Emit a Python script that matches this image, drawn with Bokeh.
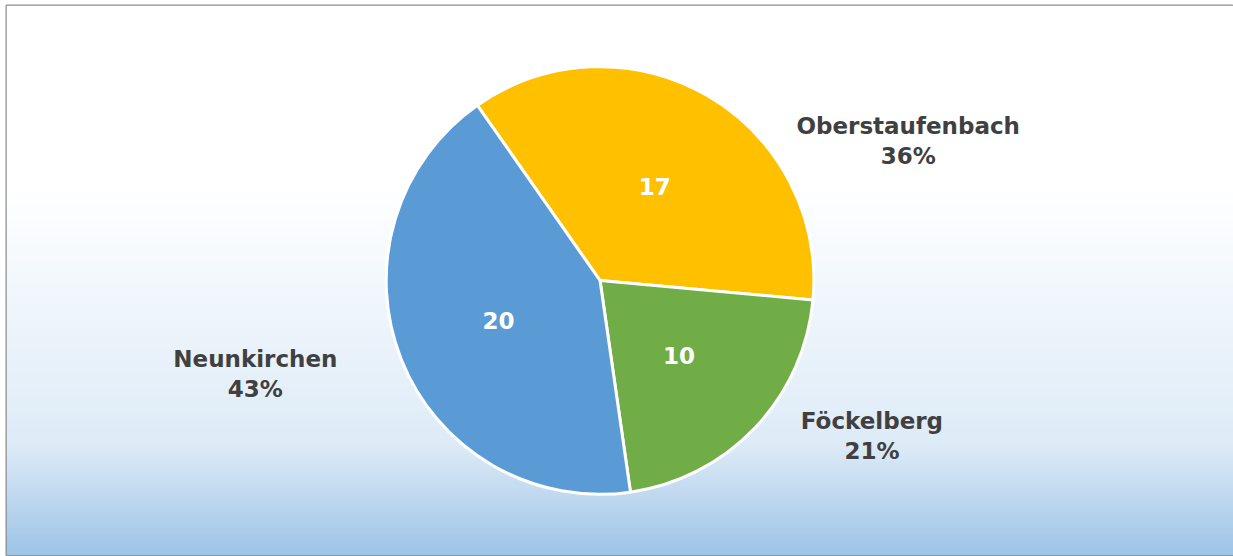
import numpy as np
from bokeh.plotting import figure
from bokeh.models import Range1d
from bokeh.core.properties import value
from bokeh.embed import file_html
from bokeh.resources import INLINE

# ---- data ----
categories = ["Oberstaufenbach", "Föckelberg", "Neunkirchen"]
values = [17, 10, 20]
colors = ["#FFC000", "#70AD47", "#5B9BD5"]

# ---- layout / style ----
W, H = 1233, 556
CX, CY, R = 600, H - 280, 214
START_DEG = 125.0          # first slice starts here, slices run clockwise
INNER_R = 0.51             # fraction of radius for value labels
# outside label block centres (angle in deg, distance in px) from the pie centre
outer_pos = [(24.3, 338.4), (-29.8, 313.6), (-164.9, 357.3)]
FONT = "DejaVu Sans"
FS = "23px"

p = figure(width=W, height=H, output_backend="svg", toolbar_location=None,
           x_range=Range1d(6, W + 1), y_range=Range1d(1, H - 5),
           min_border_left=6, min_border_top=5, min_border_bottom=1, min_border_right=0)
p.axis.visible = False
p.grid.visible = False
p.outline_line_color = "#8C8C8C"
p.outline_line_width = 2
p.background_fill_color = "white"
p.border_fill_color = "white"

# background gradient (white top -> light blue bottom)
gy0, gy1 = 1, H - 5
n = gy1 - gy0
frac_top = 1.0 - (np.arange(n) + 0.5) / n     # row 0 is at the bottom
stops = [0.0, 0.33, 0.80, 1.0]
cols = [(255, 255, 255), (255, 255, 255), (221, 235, 247), (157, 195, 230)]
img = np.empty((n, 1), dtype=np.uint32)
view = img.view(dtype=np.uint8).reshape((n, 1, 4))
for k in range(3):
    view[:, 0, k] = np.interp(frac_top, stops, [c[k] for c in cols]).round().astype(np.uint8)
view[:, 0, 3] = 255
p.image_rgba(image=[img], x=6, y=gy0, dw=W - 5, dh=n)

# pie
total = float(sum(values))
fracs = [v / total for v in values]
a_start = []
a_end = []
cur = np.radians(START_DEG)
for f in fracs:
    a_start.append(cur)
    cur = cur - f * 2 * np.pi
    a_end.append(cur)

p.wedge(x=CX, y=CY, radius=R, start_angle=a_end, end_angle=a_start,
        direction="anticlock", fill_color=colors, line_color="white", line_width=3)

# value labels inside
mids = [(s + e) / 2 for s, e in zip(a_start, a_end)]
ix = [CX + INNER_R * R * np.cos(m) for m in mids]
iy = [CY + INNER_R * R * np.sin(m) for m in mids]
p.text(x=ix, y=iy, text=[str(v) for v in values], text_align="center",
       text_baseline="middle", text_color="white", text_font=value(FONT),
       text_font_style="bold", text_font_size=FS)

# category + percent labels outside
ox = [CX + d * np.cos(np.radians(a)) for a, d in outer_pos]
oy = [CY + d * np.sin(np.radians(a)) for a, d in outer_pos]
pcts = ["%d%%" % round(f * 100) for f in fracs]
p.text(x=ox, y=[y + 15 for y in oy], text=categories, text_align="center",
       text_baseline="middle", text_color="#404040", text_font=value(FONT),
       text_font_style="bold", text_font_size=FS)
p.text(x=ox, y=[y - 15 for y in oy], text=pcts, text_align="center",
       text_baseline="middle", text_color="#404040", text_font=value(FONT),
       text_font_style="bold", text_font_size=FS)

open("out.html", "w").write(file_html(p, INLINE))
